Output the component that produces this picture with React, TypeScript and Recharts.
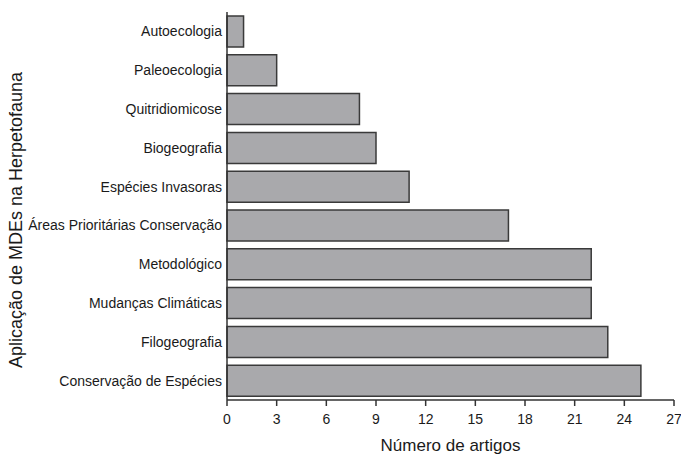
import React from 'react';
import { BarChart, Bar, XAxis, YAxis, Label } from 'recharts';

const categories = [
  'Autoecologia',
  'Paleoecologia',
  'Quitridiomicose',
  'Biogeografia',
  'Espécies Invasoras',
  'Áreas Prioritárias Conservação',
  'Metodológico',
  'Mudanças Climáticas',
  'Filogeografia',
  'Conservação de Espécies',
];
const articles = [1, 3, 8, 9, 11, 17, 22, 22, 23, 25];
const xTicks = [0, 3, 6, 9, 12, 15, 18, 21, 24, 27];

const data = categories.map((name, i) => ({ name, value: articles[i] }));

const FONT = '"Liberation Sans", Arial, sans-serif';

const YLabel = () => (
  <text
    x={16}
    y={220}
    transform="rotate(-90 16 220)"
    textAnchor="middle"
    dominantBaseline="central"
    fontSize={18}
    fontFamily={FONT}
    fill="#1a1a1a"
  >
    Aplicação de MDEs na Herpetofauna
  </text>
);

export default function App() {
  return (
    <div style={{ position: 'absolute', left: 0, top: 0, width: 681, height: 457, background: '#fff' }}>
      <BarChart
        width={681}
        height={457}
        data={data}
        layout="vertical"
        margin={{ top: 12, right: 7, bottom: 0, left: 0 }}
        barSize={31}
      >
        <XAxis
          type="number"
          domain={[0, 27]}
          ticks={xTicks}
          interval={0}
          height={57}
          tickSize={6}
          tickMargin={8}
          stroke="#333"
          strokeWidth={1.5}
          tick={{ fill: '#1a1a1a', fontSize: 14, fontFamily: FONT }}
        >
          <Label
            value="Número de artigos"
            position="insideBottom"
            offset={6}
            style={{ fill: '#1a1a1a', fontSize: 17, fontFamily: FONT }}
          />
        </XAxis>
        <YAxis
          type="category"
          dataKey="name"
          width={227}
          interval={0}
          tickLine={false}
          tickSize={0}
          tickMargin={5}
          stroke="#333"
          strokeWidth={1.5}
          tick={{ fill: '#1a1a1a', fontSize: 14, fontFamily: FONT }}
        >
          <Label content={<YLabel />} />
        </YAxis>
        <Bar
          dataKey="value"
          fill="#a9a9ac"
          stroke="#3a3a3a"
          strokeWidth={1.5}
          isAnimationActive={false}
        />
      </BarChart>
    </div>
  );
}
